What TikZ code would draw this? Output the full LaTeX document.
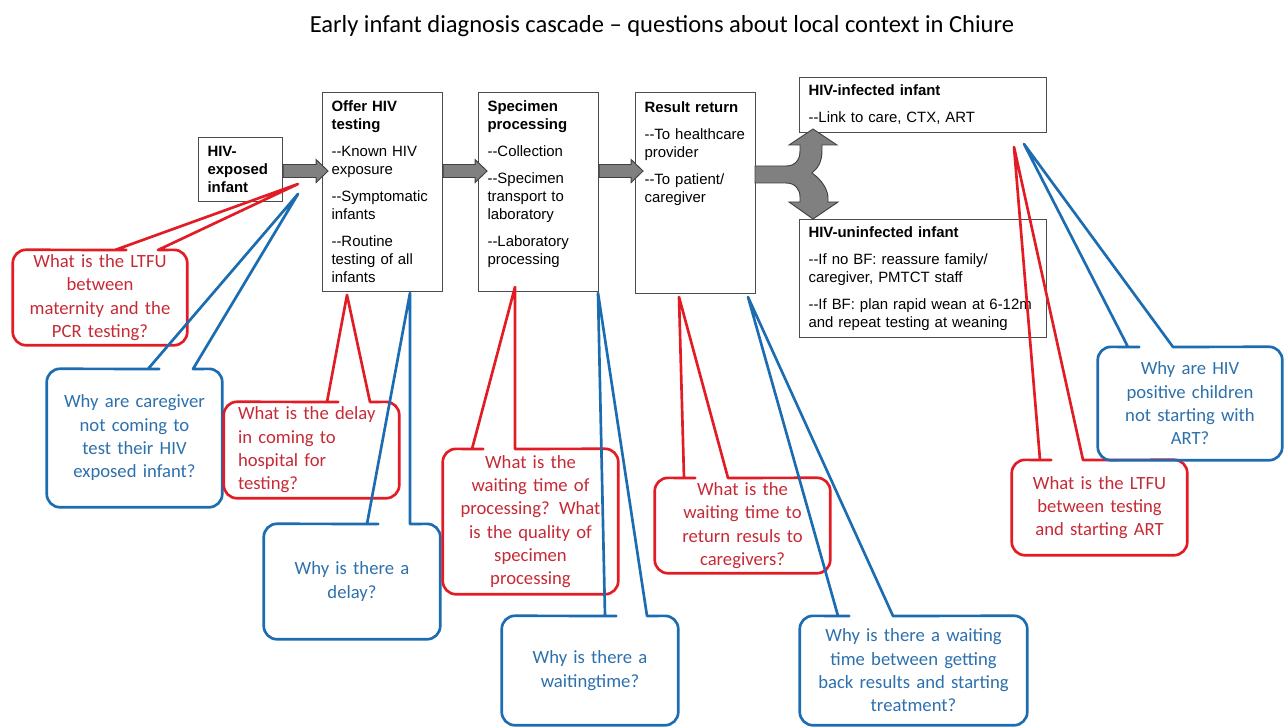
\documentclass[tikz,border=0pt]{standalone}
\usepackage{fontspec}
\setmainfont{Carlito}
\newfontfamily\arialfont{Liberation Sans}
\definecolor{qred}{RGB}{226,28,36}
\definecolor{qredtext}{RGB}{198,42,54}
\definecolor{qblue}{RGB}{28,108,178}
\definecolor{qbluetext}{RGB}{44,112,172}
\definecolor{flowgray}{RGB}{128,128,128}

\begin{document}
\begin{tikzpicture}[x=0.75pt, y=-0.75pt,
  stage/.style={draw=black!70, line width=0.8pt, anchor=north west, align=left,
    inner xsep=6.75pt, inner ysep=0pt, font=\arialfont\fontsize{11.2}{13.5}\selectfont},
  flow/.style={draw=black!75, line width=0.7pt, fill=flowgray},
  question/.style={inner sep=0pt, align=center, font=\fontsize{14}{17.5}\selectfont},
  redq/.style={question, text=qredtext},
  blueq/.style={question, text=qbluetext},
  redline/.style={draw=qred, line width=2pt, line join=round},
  blueline/.style={draw=qblue, line width=2pt, line join=round}]
  \useasboundingbox (0,0) rectangle (1287,727);

  \node[font=\fontsize{18.4}{22}\selectfont] (title) at (662,26)
    {Early infant diagnosis cascade – questions about local context in Chiure};

  % cascade steps
  \node[stage, text width=49.5pt, minimum height=48pt] (exposed) at (198,137)
    {\textbf{HIV-}\\\textbf{exposed}\\\textbf{infant}};
  \node[stage, text width=76.5pt, minimum height=149.25pt] (offer) at (322,92)
    {\textbf{Offer HIV}\\\textbf{testing}\\[6.75pt]-{}-Known HIV\\exposure\\[6.75pt]-{}-Symptomatic\\infants\\[6.75pt]-{}-Routine\\testing of all\\infants};
  \node[stage, text width=76.5pt, minimum height=149.25pt] (specimen) at (478,92)
    {\textbf{Specimen}\\\textbf{processing}\\[6.75pt]-{}-Collection\\[6.75pt]-{}-Specimen\\transport to\\laboratory\\[6.75pt]-{}-Laboratory\\processing\\\mbox{}};
  \node[stage, text width=76.5pt, minimum height=150.75pt] (result) at (635,92)
    {\textbf{Result return}\\[6.75pt]-{}-To healthcare\\provider\\[6.75pt]-{}-To patient/\\caregiver\\[47.25pt]\mbox{}};
  \node[stage, text width=171.75pt, minimum height=41.25pt] (infected) at (799,77)
    {\textbf{HIV-infected infant}\\[6.75pt]-{}-Link to care, CTX, ART};
  \node[stage, text width=171.75pt, minimum height=88.5pt] (uninfected) at (799,219)
    {\textbf{HIV-uninfected infant}\\[6.75pt]-{}-If no BF: reassure family/\\caregiver, PMTCT staff\\[6.75pt]-{}-If BF: plan rapid wean at 6-12m\\and repeat testing at weaning};

  % block arrows between the steps
  \draw[flow] (exposed.east) ++(0,-5) -- ++(33,0) -- ++(0,-5) -- ++(12,11.5) -- ++(-12,11.5) -- ++(0,-5) -- ++(-33,0) -- cycle;
  \draw[flow] (offer.east |- exposed.east) ++(0,-5) -- ++(32,0) -- ++(0,-5) -- ++(12,11.5) -- ++(-12,11.5) -- ++(0,-5) -- ++(-32,0) -- cycle;
  \draw[flow] (specimen.east |- exposed.east) ++(0,-5) -- ++(32,0) -- ++(0,-5) -- ++(12,11.5) -- ++(-12,11.5) -- ++(0,-5) -- ++(-32,0) -- cycle;
  \draw[flow] (755,166) -- (786,166) .. controls (795,166) and (800,160) .. (800,151)
    -- (800,145) -- (789,145) -- (813,129) -- (837,145) -- (822,145) -- (822,150)
    .. controls (822,162) and (818,168) .. (812,173)
    .. controls (822,180) and (828,190) .. (828,198)
    -- (828,202) -- (838,202) -- (813,219) -- (789,202) -- (800,202) -- (800,197)
    .. controls (800,189) and (795,183) .. (786,183) -- (755,183) -- cycle;

  % questions
  \node[redq, minimum width=130.5pt, minimum height=71.25pt, text width=122pt] (q1) at (100,297.5)
    {What is the LTFU\\between\\maternity and the\\PCR testing?};
  \node[blueq, minimum width=131.25pt, minimum height=103.5pt, text width=123pt] (q2) at (134.5,438)
    {Why are caregiver\\not coming to\\test their HIV\\exposed infant?};
  \node[redq, align=left, minimum width=131.25pt, minimum height=72pt, text width=110.25pt] (q3) at (311.5,450)
    {What is the delay\\in coming to\\hospital for\\testing?};
  \node[blueq, minimum width=132pt, minimum height=86.25pt, text width=124pt] (q4) at (352,581.5)
    {Why is there a\\delay?};
  \node[redq, minimum width=131.25pt, minimum height=108.75pt, text width=123pt] (q5) at (530.5,521.5)
    {What is the\\waiting time of\\processing? What\\is the quality of\\specimen\\processing};
  \node[blueq, minimum width=132pt, minimum height=81.75pt, text width=124pt] (q6) at (590,670.5)
    {Why is there a\\waitingtime?};
  \node[redq, minimum width=131.25pt, minimum height=71.25pt, text width=123pt] (q7) at (742.5,525.5)
    {What is the\\waiting time to\\return resuls to\\caregivers?};
  \node[blueq, minimum width=170.25pt, minimum height=81.75pt, text width=162pt] (q8) at (913.5,670.5)
    {Why is there a waiting\\time between getting\\back results and starting\\treatment?};
  \node[redq, minimum width=131.25pt, minimum height=71.25pt, text width=123pt] (q9) at (1099.5,507.5)
    {What is the LTFU\\between testing\\and starting ART};
  \node[blueq, minimum width=138pt, minimum height=84.75pt, text width=130pt] (q10) at (1190,403.5)
    {Why are HIV\\positive children\\not starting with\\ART?};

  % where each question points
  \coordinate (t1) at (298,184);
  \coordinate (t2) at (298,194);
  \coordinate (t3) at (347,295);
  \coordinate (t4) at (410,293);
  \coordinate (t5) at (515,287);
  \coordinate (t6) at (598,293);
  \coordinate (t7) at (679,297);
  \coordinate (t8) at (748,297);
  \coordinate (t9) at (1014,147);
  \coordinate (t10) at (1024,144);

  \draw[redline] (t1) -- (158,250) -- (160,250) [rounded corners=10pt] -- (q1.north east) -- (q1.south east) -- (q1.south west) -- (q1.north west) -- (113,250) [sharp corners] -- (115,250) -- cycle;
  \draw[blueline] (t2) -- (193,369) -- (195,369) [rounded corners=10pt] -- (q2.north east) -- (q2.south east) -- (q2.south west) -- (q2.north west) -- (146,369) [sharp corners] -- (148,369) -- cycle;
  \draw[redline] (t3) -- (370,402) -- (372,402) [rounded corners=10pt] -- (q3.north east) -- (q3.south east) -- (q3.south west) -- (q3.north west) -- (325,402) [sharp corners] -- (327,402) -- cycle;
  \draw[blueline] (t4) -- (410,524) -- (412,524) [rounded corners=10pt] -- (q4.north east) -- (q4.south east) -- (q4.south west) -- (q4.north west) -- (365,524) [sharp corners] -- (367,524) -- cycle;
  \draw[redline] (t5) -- (515,449) -- (517,449) [rounded corners=10pt] -- (q5.north east) -- (q5.south east) -- (q5.south west) -- (q5.north west) -- (470,449) [sharp corners] -- (472,449) -- cycle;
  \draw[blueline] (t6) -- (647,616) -- (649,616) [rounded corners=10pt] -- (q6.north east) -- (q6.south east) -- (q6.south west) -- (q6.north west) -- (603,616) [sharp corners] -- (605,616) -- cycle;
  \draw[redline] (t7) -- (728,478) -- (730,478) [rounded corners=10pt] -- (q7.north east) -- (q7.south east) -- (q7.south west) -- (q7.north west) -- (682,478) [sharp corners] -- (684,478) -- cycle;
  \draw[blueline] (t8) -- (893,616) -- (895,616) [rounded corners=10pt] -- (q8.north east) -- (q8.south east) -- (q8.south west) -- (q8.north west) -- (836,616) [sharp corners] -- (838,616) -- cycle;
  \draw[redline] (t9) -- (1083,460) -- (1085,460) [rounded corners=10pt] -- (q9.north east) -- (q9.south east) -- (q9.south west) -- (q9.north west) -- (1038,460) [sharp corners] -- (1040,460) -- cycle;
  \draw[blueline] (t10) -- (1173,347) -- (1175,347) [rounded corners=10pt] -- (q10.north east) -- (q10.south east) -- (q10.south west) -- (q10.north west) -- (1126,347) [sharp corners] -- (1128,347) -- cycle;
\end{tikzpicture}
\end{document}
